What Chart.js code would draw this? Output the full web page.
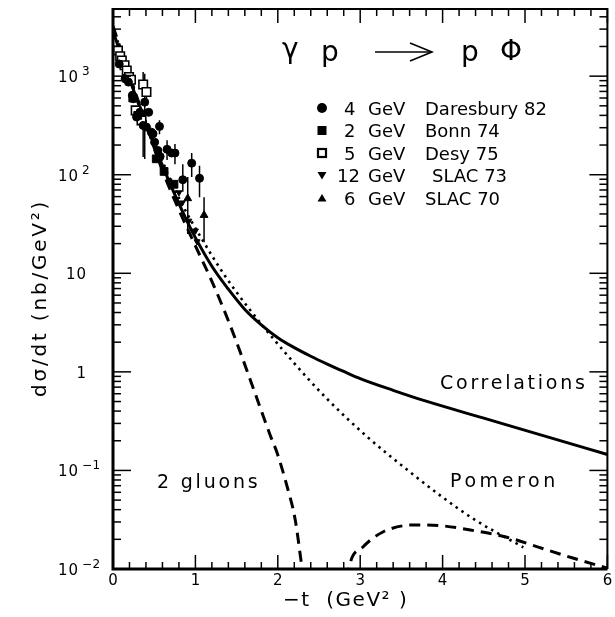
<!DOCTYPE html>
<html><head><meta charset="utf-8">
<script src="https://cdn.jsdelivr.net/npm/chart.js@4/dist/chart.umd.min.js"></script>
<style>html,body{margin:0;padding:0;background:#fff;overflow:hidden}canvas{display:block}</style>
</head><body>
<canvas id="c" width="615" height="617"></canvas>
<script>
// ---- curves: -t (GeV^2) and dsigma/dt (nb/GeV^2) ----
const corrT = [0, 0.1, 0.2, 0.3, 0.4, 0.5, 0.6, 0.7, 0.8, 0.9, 1.0, 1.2, 1.4, 1.6, 1.8, 2.0, 2.2, 2.4, 2.6, 2.8, 3.0, 3.4, 3.8, 4.5, 5.2, 6.0];
const corrV = [2870, 1620, 936, 549, 328, 200, 124, 78.5, 51, 33.7, 23, 11.8, 6.9, 4.3, 3.0, 2.22, 1.76, 1.44, 1.2, 1.01, 0.855, 0.65, 0.504, 0.339, 0.228, 0.145];

const pomT = [0, 0.2, 0.44, 0.8, 1.12, 1.36, 1.64, 2.19, 2.59, 3.07, 3.58, 3.98, 4.38, 4.98];
const pomV = [3150, 990, 280, 58, 19.5, 9.4, 4.5, 1.25, 0.54, 0.225, 0.1, 0.055, 0.032, 0.0166];

const glueT = [0, 0.2, 0.44, 0.6, 0.8, 1.0, 1.2, 1.4, 1.56, 1.72, 1.91, 1.99, 2.11, 2.21, 2.29, 2.38, 2.45, 2.6, 2.72, 2.87, 3.03, 3.27, 3.66, 3.98, 4.38, 4.78, 5.17, 5.57, 6.0];
const glueV = [3200, 1030, 262, 110, 44, 19, 8.3, 3.3, 1.46, 0.62, 0.225, 0.152, 0.07, 0.032, 0.0108, 0.003, 0.0004, null, 0.0015, 0.0108, 0.0166, 0.0236, 0.028, 0.0275, 0.0245, 0.021, 0.0166, 0.013, 0.0102];

// ---- data points ----
const darT  = [0.075, 0.147, 0.187, 0.235, 0.247, 0.286, 0.326, 0.366, 0.385, 0.406, 0.433, 0.465, 0.486, 0.505, 0.545, 0.564, 0.572, 0.656, 0.712, 0.752, 0.847, 0.955, 1.05];
const darV  = [1330, 940, 870, 640, 590, 385, 430, 316, 545, 304, 430, 270, 260, 214, 176, 309, 153, 181, 166, 166, 89, 131, 92];
const darLo = [null, null, null, null, null, null, null, 151, 144, null, null, null, null, null, null, 258, null, 141, null, 128, 67, 95, 59];
const darHi = [null, null, null, null, null, null, null, 415, 1055, null, null, null, null, null, null, 357, null, 224, null, 205, 128, 166, 123];

const bonnT = [0.24, 0.3, 0.525, 0.62, 0.74];
const bonnV = [600, 400, 145, 108, 80];

const desyT  = [0.06, 0.087, 0.107, 0.14, 0.167, 0.195, 0.218, 0.275, 0.346, 0.366, 0.406];
const desyV  = [1820, 1590, 1440, 1290, 1140, 980, 920, 450, 356, 824, 690];
const desyLo = [null, null, null, null, null, null, null, null, null, 641, 560];
const desyHi = [null, null, null, null, null, null, null, null, null, 1100, 830];

const slac73T = [0.5, 0.6, 0.68, 0.8, 0.84, 0.92, 1.0, 1.02];
const slac73V = [200, 120, 87, 66, 52, 34, 27, 21];

const slac70T  = [0.907, 1.105];
const slac70V  = [57.5, 38.9];
const slac70Lo = [25, 20.7];
const slac70Hi = [95, 59];

// ---- ticks & labels ----
const xTickValues = [0, 1, 2, 3, 4, 5, 6];
const xTickLabels = ['0', '1', '2', '3', '4', '5', '6'];
const yTickValues = [0.01, 0.1, 1, 10, 100, 1000];
const yTickBase = ['10', '10', '1', '10', '10', '10'];
const yTickExp  = ['\u22122', '\u22121', '', '', '2', '3'];

const legendEnergy = ['4', '2', '5', '12', '6'];
const legendExp = ['Daresbury 82', 'Bonn 74', 'Desy 75', 'SLAC 73', 'SLAC 70'];

const pts = (t, v) => t.map((x, i) => ({x: x, y: v[i]}));
const FONT = '"DejaVu Sans", sans-serif';

const curve = (label, t, v, dash, w) => ({
  label, type: 'scatter', showLine: true, data: pts(t, v), borderColor: '#000', backgroundColor: '#000',
  borderWidth: w, borderDash: dash, pointRadius: 0, cubicInterpolationMode: 'monotone', spanGaps: false, order: 2, fill: false
});
const marks = (label, t, v, style, r, bg, rot, lo, hi) => ({
  label, type: 'scatter', showLine: false, data: pts(t, v), pointStyle: style, pointRadius: r,
  pointBackgroundColor: bg, pointBorderColor: '#000', pointBorderWidth: bg === '#fff' ? 1.6 : 1,
  pointRotation: rot, order: 1, errLo: lo, errHi: hi
});

const decor = {
  id: 'decor',
  beforeDatasetsDraw(chart) {
    const ctx = chart.ctx, xs = chart.scales.x, ys = chart.scales.y, a = chart.chartArea;
    ctx.save();
    ctx.beginPath(); ctx.rect(a.left, a.top, a.right - a.left, a.bottom - a.top); ctx.clip();
    ctx.strokeStyle = '#000'; ctx.lineWidth = 1.5;
    chart.data.datasets.forEach(ds => {
      if (!ds.errLo) return;
      ds.data.forEach((p, i) => {
        if (ds.errLo[i] == null) return;
        const x = xs.getPixelForValue(p.x);
        ctx.beginPath();
        ctx.moveTo(x, ys.getPixelForValue(ds.errLo[i]));
        ctx.lineTo(x, ys.getPixelForValue(ds.errHi[i]));
        ctx.stroke();
      });
    });
    ctx.restore();
  },
  afterDraw(chart) {
    const ctx = chart.ctx, xs = chart.scales.x, ys = chart.scales.y, a = chart.chartArea;
    ctx.save();
    ctx.strokeStyle = '#000'; ctx.fillStyle = '#000';
    // inward ticks
    ctx.lineWidth = 1.5;
    for (let e = -2; e <= 3; e++) {
      for (let m = 1; m <= 9; m++) {
        const v = m * Math.pow(10, e);
        if (v < 0.01 || v > ys.max) continue;
        const y = ys.getPixelForValue(v);
        const len = m === 1 ? 18 : 8;
        ctx.beginPath(); ctx.moveTo(a.left, y); ctx.lineTo(a.left + len, y); ctx.stroke();
        ctx.beginPath(); ctx.moveTo(a.right, y); ctx.lineTo(a.right - len, y); ctx.stroke();
      }
    }
    for (let k = 0; k <= 30; k++) {
      const x = xs.getPixelForValue(k * 0.2);
      const len = k % 5 === 0 ? 14 : 7;
      ctx.beginPath(); ctx.moveTo(x, a.bottom); ctx.lineTo(x, a.bottom - len); ctx.stroke();
      ctx.beginPath(); ctx.moveTo(x, a.top); ctx.lineTo(x, a.top + len); ctx.stroke();
    }
    // frame
    ctx.lineWidth = 2;
    ctx.beginPath(); ctx.moveTo(a.left, a.top); ctx.lineTo(a.right, a.top); ctx.lineTo(a.right, a.bottom); ctx.stroke();
    ctx.lineWidth = 3;
    ctx.beginPath(); ctx.moveTo(a.left, a.top - 1); ctx.lineTo(a.left, a.bottom); ctx.lineTo(a.right, a.bottom); ctx.stroke();

    const txt = (s, x, y, size, sp, align) => {
      ctx.font = size + 'px ' + FONT;
      ctx.letterSpacing = sp + 'px';
      ctx.textAlign = align || 'left';
      ctx.textBaseline = 'alphabetic';
      ctx.fillText(s, x, y);
    };
    // y tick labels (positions from the log axis ticks)
    ys.ticks.forEach(tk => {
      const i = yTickValues.findIndex(t => Math.abs(t - tk.value) / t < 1e-6);
      if (i < 0) return;
      const y = ys.getPixelForValue(tk.value);
      if (yTickExp[i]) {
        txt(yTickBase[i], 79, y + 6, 15, 1, 'right');
        txt(yTickExp[i], 82, y - 1, 12, 0.5, 'left');
      } else {
        txt(yTickBase[i], 87, y + 6, 15, 1, 'right');
      }
    });
    // axis titles
    txt('\u2212t  (GeV\u00B2 )', 283, 606, 20, 1.5);
    ctx.save();
    ctx.translate(46, 397); ctx.rotate(-Math.PI / 2);
    txt('d\u03C3/dt (nb/GeV\u00B2)', 0, 0, 20, 2.8);
    ctx.restore();
    // curve labels
    txt('Correlations', 440, 389, 19, 2.75);
    txt('2 gluons', 157, 488, 19, 2.8);
    txt('Pomeron', 450, 487, 19, 3.6);
    // reaction
    txt('\u03B3', 282, 58, 28, 0);
    txt('p', 321, 61, 28, 0);
    txt('p', 461, 61, 28, 0);
    txt('\u03A6', 500, 60, 28, 0);
    ctx.lineWidth = 1.6;
    ctx.beginPath(); ctx.moveTo(375, 52); ctx.lineTo(431, 52); ctx.stroke();
    ctx.beginPath(); ctx.moveTo(410, 43); ctx.lineTo(432, 52); ctx.lineTo(410, 61); ctx.stroke();
    // legend
    const rows = [108, 130.5, 153, 175.5, 198];
    const mx = 322;
    rows.forEach((y, i) => {
      ctx.fillStyle = '#000'; ctx.strokeStyle = '#000';
      if (i === 0) { ctx.beginPath(); ctx.arc(mx, y, 5, 0, Math.PI * 2); ctx.fill(); }
      if (i === 1) { ctx.fillRect(mx - 4.5, y - 4.5, 9, 9); }
      if (i === 2) { ctx.lineWidth = 2.2; ctx.strokeRect(mx - 4, y - 4, 8, 8); }
      if (i === 3) { ctx.beginPath(); ctx.moveTo(mx - 4.5, y - 3.5); ctx.lineTo(mx + 4.5, y - 3.5); ctx.lineTo(mx, y + 4); ctx.closePath(); ctx.fill(); }
      if (i === 4) { ctx.beginPath(); ctx.moveTo(mx - 4.5, y + 3.5); ctx.lineTo(mx + 4.5, y + 3.5); ctx.lineTo(mx, y - 4); ctx.closePath(); ctx.fill(); }
      const by = y + 6.5;
      txt(legendEnergy[i], legendEnergy[i].length > 1 ? 337 : 344, by, 18, 0);
      txt('GeV', 368, by, 18, 0);
      txt(legendExp[i], i === 3 ? 432 : 425, by, 18, 0);
    });
    ctx.restore();
  }
};

new Chart(document.getElementById('c'), {
  type: 'scatter',
  data: {
    datasets: [
      marks('4 GeV Daresbury 82', darT, darV, 'circle', 4, '#000', 0, darLo, darHi),
      marks('2 GeV Bonn 74', bonnT, bonnV, 'rect', 5.5, '#000', 0, null, null),
      marks('5 GeV Desy 75', desyT, desyV, 'rect', 6, '#fff', 0, desyLo, desyHi),
      marks('12 GeV SLAC 73', slac73T, slac73V, 'triangle', 3.5, '#000', 180, null, null),
      marks('6 GeV SLAC 70', slac70T, slac70V, 'triangle', 4.5, '#000', 0, slac70Lo, slac70Hi),
      curve('Correlations', corrT, corrV, [], 3),
      curve('Pomeron', pomT, pomV, [2.5, 4.5], 2.6),
      curve('2 gluons', glueT, glueV, [11, 7], 3)
    ]
  },
  options: {
    responsive: false, animation: false, devicePixelRatio: 1,
    layout: {padding: {left: 0, right: 0, top: 9, bottom: 0}},
    plugins: {legend: {display: false}, tooltip: {enabled: false}},
    scales: {
      x: {
        type: 'linear', min: 0, max: 6,
        grid: {display: false, drawTicks: false}, border: {display: false},
        ticks: {padding: 3, color: '#000', maxRotation: 0, autoSkip: false,
          font: {family: FONT, size: 15},
          callback: (v) => { const i = xTickValues.indexOf(v); return i < 0 ? '' : xTickLabels[i]; }},
        afterBuildTicks: s => { s.ticks = xTickValues.map(v => ({value: v})); },
        afterFit: s => { s.height = 48; s.paddingLeft = 0; s.paddingRight = 0; }
      },
      y: {
        type: 'logarithmic', min: 0.01, max: 4800,
        grid: {display: false, drawTicks: false}, border: {display: false},
        ticks: {display: false, autoSkip: false,
          callback: (v) => { const i = yTickValues.findIndex(t => Math.abs(t - v) / t < 1e-6); return i < 0 ? '' : yTickBase[i] + yTickExp[i]; }},
        afterBuildTicks: s => { s.ticks = yTickValues.map(v => ({value: v})); },
        afterFit: s => { s.width = 113; s.paddingTop = 0; s.paddingBottom = 0; }
      }
    }
  },
  plugins: [decor]
});
</script>
</body></html>
